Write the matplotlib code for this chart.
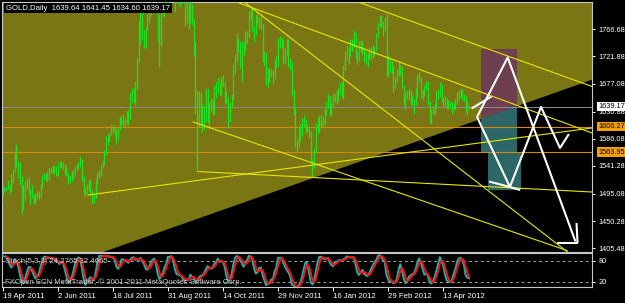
import numpy as np
import pandas as pd
import matplotlib
matplotlib.use("Agg")
import matplotlib.pyplot as plt
from matplotlib.patches import Polygon, Rectangle
from matplotlib.transforms import blended_transform_factory

plt.rcParams['font.family'] = ['Liberation Sans', 'DejaVu Sans']

# GOLD daily bars, 11 Apr 2011 .. 7 May 2012 (first 6 bars lie left of the view)
first_bar = -6
highs = [1477, 1466, 1461, 1476, 1487, 1498,
         1505, 1509, 1507, 1518, 1511, 1528, 1537, 1564,
         1577, 1550, 1547, 1524, 1510, 1516, 1521, 1523, 1504, 1510, 1495, 1497, 1500, 1500, 1512, 1526, 1530, 1530, 1531, 1538, 1539, 1541,
         1543, 1541, 1547, 1549, 1550, 1548, 1545, 1540, 1532, 1526, 1533, 1535, 1541, 1545, 1548, 1557, 1553, 1525, 1507, 1512, 1518, 1518,
         1502, 1495, 1518, 1532, 1534, 1545, 1551, 1568, 1590, 1594, 1598, 1610, 1609, 1607, 1601, 1604, 1624, 1624, 1627, 1620, 1632,
         1633, 1661, 1670, 1670, 1682, 1719, 1780, 1795, 1817, 1766, 1770, 1794, 1798, 1830, 1877, 1912, 1912, 1845, 1790, 1830, 1838, 1840, 1838,
         1839, 1883, 1900, 1921, 1873, 1870, 1872, 1859, 1840, 1835, 1822, 1827, 1824, 1815, 1808, 1784, 1745, 1666, 1665, 1664, 1643, 1640,
         1670, 1670, 1646, 1654, 1653, 1675, 1679, 1688, 1681, 1688, 1692, 1680, 1665, 1655, 1647, 1659, 1710, 1726, 1760, 1750, 1747,
         1745, 1748, 1764, 1763, 1797, 1803, 1802, 1772, 1790, 1795, 1787, 1791, 1776, 1731, 1727, 1703, 1702, 1701, 1700, 1716, 1722, 1753,
         1755, 1754, 1749, 1735, 1750, 1750, 1719, 1712, 1667, 1637, 1585, 1604, 1611, 1621, 1626, 1618, 1610, 1606, 1599, 1552, 1571,
         1612, 1622, 1625, 1627, 1623, 1636, 1648, 1660, 1656, 1645, 1660, 1662, 1667, 1670, 1680, 1680, 1707, 1730, 1739, 1737, 1751,
         1750, 1763, 1761, 1729, 1748, 1749, 1747, 1737, 1729, 1728, 1738, 1737, 1740, 1738, 1760, 1777, 1789, 1790, 1780, 1787, 1792,
         1725, 1717, 1714, 1706, 1688, 1701, 1714, 1707, 1705, 1675, 1662, 1667, 1668, 1667, 1659, 1653, 1670, 1693, 1697, 1688, 1668, 1675,
         1682, 1681, 1648, 1636, 1640, 1645, 1665, 1668, 1679, 1677, 1655, 1656, 1653, 1650, 1649, 1646, 1647, 1652, 1663, 1667, 1668,
         1668, 1660, 1657, 1647, 1641.45]
lows = [1463, 1448, 1450, 1455, 1472, 1479,
        1494, 1500, 1500, 1503, 1497, 1499, 1513, 1532,
        1540, 1522, 1512, 1462, 1470, 1485, 1504, 1495, 1478, 1489, 1478, 1480, 1486, 1487, 1490, 1505, 1518, 1516, 1515, 1518, 1530, 1528,
        1530, 1525, 1525, 1538, 1538, 1535, 1527, 1525, 1512, 1513, 1517, 1521, 1527, 1534, 1537, 1540, 1517, 1495, 1490, 1495, 1500, 1495,
        1478, 1481, 1488, 1512, 1521, 1524, 1538, 1544, 1559, 1575, 1582, 1592, 1595, 1590, 1578, 1586, 1601, 1610, 1607, 1606, 1610,
        1608, 1618, 1646, 1645, 1642, 1667, 1713, 1743, 1751, 1735, 1735, 1766, 1777, 1789, 1816, 1853, 1826, 1745, 1705, 1739, 1789, 1787, 1806,
        1808, 1821, 1871, 1846, 1795, 1810, 1837, 1804, 1810, 1811, 1772, 1777, 1767, 1777, 1774, 1723, 1627, 1532, 1605, 1607, 1598, 1603,
        1613, 1614, 1603, 1630, 1626, 1627, 1653, 1661, 1657, 1659, 1672, 1645, 1643, 1604, 1614, 1637, 1650, 1693, 1713, 1731, 1703,
        1680, 1724, 1732, 1743, 1752, 1782, 1763, 1745, 1757, 1775, 1768, 1767, 1712, 1706, 1674, 1671, 1680, 1690, 1676, 1685, 1703, 1706,
        1735, 1737, 1709, 1711, 1725, 1705, 1700, 1657, 1625, 1572, 1565, 1573, 1584, 1591, 1605, 1597, 1597, 1587, 1546, 1523, 1538,
        1565, 1596, 1597, 1606, 1605, 1608, 1626, 1637, 1625, 1624, 1640, 1646, 1644, 1649, 1658, 1655, 1652, 1700, 1716, 1710, 1722,
        1730, 1737, 1718, 1709, 1715, 1729, 1726, 1713, 1709, 1705, 1718, 1717, 1720, 1722, 1730, 1754, 1771, 1770, 1755, 1763, 1688,
        1690, 1697, 1695, 1663, 1670, 1680, 1689, 1692, 1670, 1642, 1634, 1651, 1650, 1641, 1641, 1627, 1642, 1655, 1680, 1653, 1650, 1656,
        1666, 1642, 1612, 1611, 1627, 1626, 1636, 1652, 1655, 1646, 1638, 1639, 1636, 1635, 1637, 1627, 1633, 1635, 1644, 1650, 1655,
        1650, 1648, 1630, 1626, 1634.60]
closes = [1466, 1453, 1456, 1474, 1486, 1492,
          1503, 1504, 1504, 1507, 1503, 1517, 1535, 1556,
          1545, 1538, 1515, 1474, 1491, 1513, 1517, 1500, 1501, 1492, 1489, 1493, 1495, 1493, 1509, 1522, 1526, 1527, 1522, 1536, 1536, 1536,
          1540, 1533, 1542, 1543, 1545, 1542, 1530, 1530, 1517, 1523, 1530, 1530, 1539, 1541, 1544, 1552, 1520, 1501, 1500, 1509, 1515, 1500,
          1483, 1491, 1515, 1529, 1530, 1542, 1547, 1563, 1585, 1587, 1594, 1603, 1602, 1599, 1587, 1601, 1616, 1621, 1615, 1617, 1628,
          1621, 1658, 1667, 1658, 1663, 1713, 1742, 1791, 1759, 1745, 1766, 1785, 1792, 1822, 1852, 1891, 1835, 1759, 1772, 1828, 1790, 1836, 1826,
          1829, 1876, 1897, 1873, 1818, 1860, 1857, 1815, 1826, 1821, 1783, 1813, 1779, 1806, 1785, 1739, 1655, 1628, 1652, 1614, 1617, 1623,
          1657, 1626, 1642, 1651, 1635, 1672, 1663, 1678, 1666, 1683, 1679, 1655, 1655, 1617, 1642, 1654, 1704, 1722, 1744, 1746, 1715,
          1734, 1730, 1760, 1752, 1795, 1795, 1769, 1758, 1776, 1780, 1782, 1773, 1721, 1723, 1678, 1699, 1694, 1695, 1683, 1714, 1711, 1747,
          1745, 1746, 1723, 1731, 1744, 1712, 1711, 1663, 1634, 1573, 1577, 1597, 1596, 1618, 1619, 1607, 1606, 1593, 1547, 1542, 1566,
          1601, 1612, 1620, 1617, 1610, 1633, 1645, 1649, 1634, 1643, 1652, 1657, 1653, 1664, 1677, 1664, 1705, 1725, 1728, 1731, 1740,
          1745, 1759, 1725, 1720, 1746, 1735, 1732, 1723, 1722, 1723, 1729, 1731, 1727, 1735, 1757, 1776, 1786, 1778, 1767, 1785, 1697,
          1713, 1711, 1706, 1675, 1684, 1698, 1697, 1703, 1674, 1645, 1658, 1658, 1662, 1652, 1649, 1645, 1661, 1690, 1685, 1658, 1661, 1669,
          1678, 1646, 1614, 1632, 1632, 1641, 1660, 1660, 1676, 1657, 1650, 1649, 1642, 1642, 1642, 1636, 1643, 1647, 1658, 1663, 1664,
          1656, 1654, 1635, 1644, 1639.17]

date_ticks = [0, 32, 64, 96, 128, 160, 192, 224, 256]
date_labels = ["19 Apr 2011", "2 Jun 2011", "18 Jul 2011", "31 Aug 2011", "14 Oct 2011",
               "29 Nov 2011", "16 Jan 2012", "29 Feb 2012", "13 Apr 2012"]
price_ticks = [1766.68, 1721.88, 1677.08, 1630.88, 1586.08, 1541.28, 1495.08, 1450.28, 1405.48]
bid_price = 1639.17
level_prices = [1606.27, 1563.95]
title = "GOLD,Daily  1639.64 1641.45 1634.60 1639.17"
stoch_text = "Stoch(5,3,3) 24.2765 32.4665"

# chart objects, anchors as (bar, price)
fill_edge = [(62, 1403), (342, 1683)]
trend_lines = [
    [(136.9, 1810.5), (342.4, 1595.6)],
    [(140.8, 1810.5), (327.9, 1400.0)],
    [(207.6, 1810.5), (342.4, 1672.3)],
    [(110.7, 1613.8), (327.9, 1401.8)],
    [(114.0, 1532.0), (342.4, 1498.3)],
    [(49.7, 1493.4), (342.4, 1603.9)],
]
rect_upper = [(278.0, 1563.0), (298.9, 1734.1)]
rect_lower = [(282.1, 1501.6), (301.1, 1563.0)]
white_paths = [
    [(272.4, 1636.0), (284.0, 1655.8)],
    [(275.6, 1622.0), (293.4, 1720.1), (332.8, 1416.7)],
    [(275.6, 1622.0), (294.7, 1506.6), (312.8, 1638.5), (323.8, 1570.9), (329.0, 1594.0)],
    [(282.6, 1515.6), (294.7, 1506.6), (300.6, 1501.6)],
    [(321.8, 1414.2), (334.0, 1414.2)],
    [(333.4, 1447.2), (334.0, 1414.2)],
]

W, H = 625, 303
fs = 5.3
fig = plt.figure(figsize=(W / 100, H / 100), dpi=100, facecolor="black")
ax = fig.add_axes([2 / W, 1 - 252 / H, 590 / W, 250 / H])
ax2 = fig.add_axes([2 / W, 1 - 287 / H, 590 / W, 34 / H])
xlim = (-0.41, 342.4)
for a in (ax, ax2):
    a.set_facecolor("black")
    a.set_xlim(*xlim)
    for s in a.spines.values():
        s.set_color("#c8c8c8")
        s.set_linewidth(0.8)
ax.set_ylim(1399.4, 1811.6)
ax2.set_ylim(4.9, 102)

# olive triangle area
(x0, y0), (x1, y1) = fill_edge
k = (y1 - y0) / (x1 - x0)
bl = (x0 - 20, y0 - 20 * k)
br = (x1 + 20, y1 + 20 * k)
olive = Polygon([(-10, 1900), (br[0], 1900), br, bl, (-10, bl[1])],
                closed=True, facecolor="#7a7614", edgecolor="none", zorder=0)
ax.add_patch(olive)

# rectangles
(ra, pa), (rb, pb) = rect_upper
ax.add_patch(Rectangle((ra, pa), rb - ra, pb - pa, facecolor="#2c6666", edgecolor="none", zorder=1))
maroon = Rectangle((ra, pa), rb - ra, pb - pa, facecolor="#6e3e51", edgecolor="none", zorder=1.1)
ax.add_patch(maroon)
maroon.set_clip_path(olive)
(ra, pa), (rb, pb) = rect_lower
ax.add_patch(Rectangle((ra, pa), rb - ra, pb - pa, facecolor="#2c6666", edgecolor="none", zorder=1))

# horizontal levels
for p in level_prices:
    ax.axhline(p, color="#d8890c", lw=0.8, zorder=2)
ax.axhline(bid_price, color="#8c8c8c", lw=0.7, zorder=2)

# bars
idx = np.arange(len(closes)) + first_bar
ax.vlines(idx, lows, highs, color="#22dd22", lw=0.95, zorder=3)

for ln in trend_lines:
    xs, ys = zip(*ln)
    ax.plot(xs, ys, color="#e6e600", lw=0.8, zorder=4)

for pth in white_paths:
    xs, ys = zip(*pth)
    ax.plot(xs, ys, color="white", lw=1.5, zorder=5, solid_capstyle="butt")

# price axis
ax.set_xticks([])
ax.yaxis.tick_right()
ax.set_yticks(price_ticks)
ax.set_yticklabels(["%.2f" % v for v in price_ticks])
ax.tick_params(axis="y", colors="white", labelsize=fs, length=2.5, width=0.7, pad=2)

tr = blended_transform_factory(ax.transAxes, ax.transData)
lx = (598 - 2) / 590
ax.text(lx, bid_price, "%.2f" % bid_price, transform=tr, fontsize=fs, color="black",
        va="center", ha="left", clip_on=False, zorder=10,
        bbox=dict(facecolor="white", edgecolor="none", pad=1.0))
for p in level_prices:
    ax.text(lx, p, "%.2f" % p, transform=tr, fontsize=fs, color="black",
            va="center", ha="left", clip_on=False, zorder=10,
            bbox=dict(facecolor="#f5a000", edgecolor="none", pad=1.0))

fig.text(6 / W, 1 - 8 / H, title, color="white", fontsize=5.6, va="center", ha="left",
         bbox=dict(facecolor="black", edgecolor="none", pad=1.2))

# stochastic 5,3,3
h = np.array(highs, float)
l = np.array(lows, float)
c = np.array(closes, float)
hh = pd.Series(h).rolling(5).max().values
ll = pd.Series(l).rolling(5).min().values
num = pd.Series(c - ll).rolling(3).sum()
den = pd.Series(hh - ll).rolling(3).sum()
main = (num / den * 100).values
signal = pd.Series(main).rolling(3).mean().values

for lev in (80, 20):
    ax2.axhline(lev, color="#a0a0a0", lw=0.7, ls=(0, (3, 3)), zorder=1)
ax2.plot(idx, main, color="#20b2aa", lw=1.4, zorder=3)
ax2.plot(idx, signal, color="#ff1010", lw=1.4, zorder=4)

tr2 = blended_transform_factory(ax2.transAxes, ax2.transData)
ax2.text(3 / 590, (288.7 - 261.7) / 0.35, stoch_text, transform=tr2,
         color="#c8c8c8", fontsize=5.6, va="center", ha="left", zorder=5)
ax2.text(3 / 590, (288.7 - 281.7) / 0.35, "FXOpen ECN MetaTrader, \u00a9 2001-2011 MetaQuotes Software Corp.",
         transform=tr2, color="#c8c8c8", fontsize=5.6, va="center", ha="left", zorder=5)

ax2.yaxis.tick_right()
ax2.set_yticks([80, 20])
ax2.set_yticklabels(["80", "20"])
ax2.tick_params(axis="y", colors="white", labelsize=fs, length=2.5, width=0.7, pad=2)
ax2.set_xticks(date_ticks)
ax2.set_xticklabels(date_labels, ha="left")
ax2.tick_params(axis="x", colors="white", labelsize=5.6, length=3, width=0.7, pad=1.5)

fig.savefig("out.png", dpi=100, facecolor="black")
